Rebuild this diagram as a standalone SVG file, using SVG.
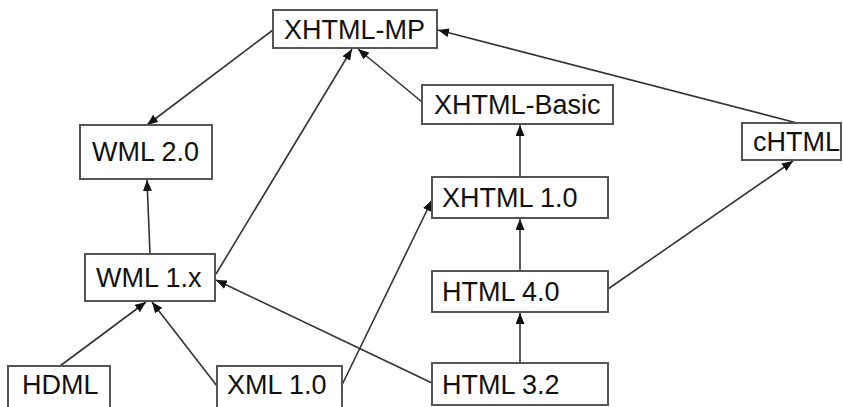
<svg xmlns="http://www.w3.org/2000/svg" width="843" height="407" viewBox="0 0 843 407">
  <style>
    .box { fill: #ffffff; stroke: #555555; stroke-width: 2; }
    .lbl { font-family: "Liberation Sans", Arial, sans-serif; font-size: 27px; fill: #111111; }
    .edge { fill: none; stroke: #333333; stroke-width: 1.6; marker-end: url(#head); }
  </style>
  <defs>
    <marker id="head" markerUnits="userSpaceOnUse" markerWidth="11" markerHeight="9" refX="11" refY="4.5" orient="auto">
      <path d="M0,0 L11,4.5 L0,9 z" fill="#111111"/>
    </marker>
  </defs>
  <rect width="843" height="407" fill="#ffffff"/>

  <g id="connectors">
    <line class="edge" x1="273" y1="30" x2="147" y2="125"/>
    <line class="edge" x1="150" y1="254" x2="147" y2="180"/>
    <line class="edge" x1="216" y1="274" x2="352" y2="49"/>
    <line class="edge" x1="422" y1="102" x2="358" y2="49"/>
    <line class="edge" x1="60" y1="366" x2="146" y2="302"/>
    <line class="edge" x1="217" y1="386" x2="152" y2="302"/>
    <line class="edge" x1="432" y1="383" x2="216" y2="280"/>
    <line class="edge" x1="341" y1="387" x2="432" y2="200"/>
    <line class="edge" x1="520" y1="177" x2="520" y2="125"/>
    <line class="edge" x1="520" y1="271" x2="520" y2="219"/>
    <line class="edge" x1="520" y1="363" x2="520" y2="313"/>
    <line class="edge" x1="608" y1="289" x2="793" y2="161"/>
    <line class="edge" x1="797" y1="123" x2="438" y2="30"/>
  </g>

  <g id="xhtml-mp">
    <rect class="box" x="273" y="10" width="164" height="38"/>
    <text class="lbl" x="284" y="39">XHTML-MP</text>
  </g>
  <g id="wml-2-0">
    <rect class="box" x="80" y="125" width="132" height="54"/>
    <text class="lbl" x="92" y="161">WML 2.0</text>
  </g>
  <g id="xhtml-basic">
    <rect class="box" x="422" y="85" width="191" height="39"/>
    <text class="lbl" x="434" y="114">XHTML-Basic</text>
  </g>
  <g id="chtml">
    <rect class="box" x="742" y="123" width="99" height="37"/>
    <text class="lbl" x="753" y="151">cHTML</text>
  </g>
  <g id="xhtml-1-0">
    <rect class="box" x="432" y="177" width="176" height="41"/>
    <text class="lbl" x="442" y="207">XHTML 1.0</text>
  </g>
  <g id="wml-1-x">
    <rect class="box" x="85" y="254" width="130" height="47"/>
    <text class="lbl" x="96" y="287">WML 1.x</text>
  </g>
  <g id="html-4-0">
    <rect class="box" x="432" y="271" width="176" height="41"/>
    <text class="lbl" x="442" y="301">HTML 4.0</text>
  </g>
  <g id="hdml">
    <rect class="box" x="8" y="366" width="102" height="50"/>
    <text class="lbl" x="22" y="394">HDML</text>
  </g>
  <g id="xml-1-0">
    <rect class="box" x="217" y="366" width="125" height="50"/>
    <text class="lbl" x="227" y="394">XML 1.0</text>
  </g>
  <g id="html-3-2">
    <rect class="box" x="432" y="363" width="176" height="42"/>
    <text class="lbl" x="442" y="394">HTML 3.2</text>
  </g>
</svg>
